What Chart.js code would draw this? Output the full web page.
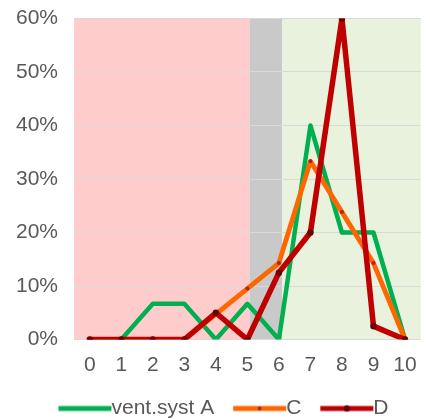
<!DOCTYPE html>
<html>
<head>
<meta charset="utf-8">
<script src="https://cdn.jsdelivr.net/npm/chart.js@4.4.1/dist/chart.umd.min.js"></script>
<style>
  html, body { margin: 0; padding: 0; background: #ffffff; }
  #wrap { width: 430px; height: 419px; }
</style>
</head>
<body>
<div id="wrap"><canvas id="chart" width="430" height="419"></canvas></div>
<script>
// Categories on the x axis
const categories = ['0', '1', '2', '3', '4', '5', '6', '7', '8', '9', '10'];

// Share of answers per category (percent)
const seriesNames = ['vent.syst A', 'C', 'D'];
const ventSystA = [0, 0, 6.67, 6.67, 0, 6.67, 0, 40, 20, 20, 0];
const seriesC   = [0, 0, 0, 0, 4.76, 9.52, 14.29, 33.33, 23.81, 14.29, 0];
const seriesD   = [0, 0, 0, 0, 5, 0, 12.5, 20, 60, 2.5, 0];

// Y axis ticks (percent)
const yTicks = [0, 10, 20, 30, 40, 50, 60];

// Shaded zones behind the lines, in category units
const zoneFrom = [-0.5, 5.07, 6.1];
const zoneTo   = [5.07, 6.1, 10.5];
const zoneColors = ['#FFCCCC', '#C9C9C9', '#E9F2DC'];

const FONT = '"Liberation Sans", Arial, sans-serif';
const TEXT = '#595959';
const FS = 21;

const seriesColors = ['#00B050', '#FF6600', '#C00000'];
const markerColors = [null, '#B0201A', '#6A0000'];
const markerRadius = [0, 2, 3.2];

// Legend swatch: a short line with the series marker in its middle
const LEGEND_BOX = 51.5;
function legendSwatch(i) {
  const lineLen = 53;
  const rightOff = LEGEND_BOX / 2 + FS / 2;
  const half = Math.ceil(Math.max(rightOff, lineLen - rightOff));
  const cv = document.createElement('canvas');
  cv.width = half * 2;
  cv.height = 10;
  const g = cv.getContext('2d');
  const x1 = half + rightOff;
  const x0 = x1 - lineLen;
  g.strokeStyle = seriesColors[i];
  g.lineWidth = 5;
  g.beginPath();
  g.moveTo(x0, 5);
  g.lineTo(x1, 5);
  g.stroke();
  if (markerRadius[i] > 0) {
    g.fillStyle = markerColors[i];
    g.beginPath();
    g.arc((x0 + x1) / 2, 5, markerRadius[i], 0, Math.PI * 2);
    g.fill();
  }
  return cv;
}

const zonesPlugin = {
  id: 'zones',
  beforeDraw(chart) {
    const { ctx, chartArea, scales } = chart;
    const x = scales.x;
    ctx.save();
    for (let i = 0; i < zoneFrom.length; i++) {
      const a = Math.max(chartArea.left, x.getPixelForValue(zoneFrom[i]));
      const b = Math.min(chartArea.right, x.getPixelForValue(zoneTo[i]));
      ctx.fillStyle = zoneColors[i];
      ctx.fillRect(a, chartArea.top, b - a, chartArea.bottom - chartArea.top);
    }
    ctx.restore();
  }
};

const seriesData = [ventSystA, seriesC, seriesD];
const lineWidths = [4.5, 4.8, 5.5];

new Chart(document.getElementById('chart'), {
  type: 'line',
  data: {
    labels: categories,
    datasets: seriesNames.map((name, i) => ({
      label: name,
      data: seriesData[i],
      borderColor: seriesColors[i],
      backgroundColor: seriesColors[i],
      borderWidth: lineWidths[i],
      borderJoinStyle: 'round',
      borderCapStyle: 'round',
      tension: 0,
      fill: false,
      pointRadius: markerRadius[i],
      pointHoverRadius: markerRadius[i],
      pointBorderWidth: 0,
      pointBackgroundColor: markerColors[i] || seriesColors[i],
      order: seriesNames.length - i
    }))
  },
  options: {
    responsive: false,
    animation: false,
    devicePixelRatio: 1,
    layout: { padding: { left: 15, right: 7, top: 18.5, bottom: -10 } },
    plugins: {
      tooltip: { enabled: false },
      legend: {
        position: 'bottom',
        align: 'center',
        labels: {
          usePointStyle: true,
          pointStyleWidth: LEGEND_BOX,
          boxHeight: 8,
          padding: 10,
          color: TEXT,
          font: { family: FONT, size: FS },
          sort: (a, b) => a.datasetIndex - b.datasetIndex,
          generateLabels(chart) {
            const items = Chart.defaults.plugins.legend.labels.generateLabels(chart);
            items.forEach(it => { it.pointStyle = legendSwatch(it.datasetIndex); });
            return items;
          }
        }
      }
    },
    scales: {
      x: {
        type: 'category',
        offset: true,
        grid: { display: false, drawTicks: false },
        border: { display: false },
        ticks: { color: TEXT, font: { family: FONT, size: FS }, padding: 13, maxRotation: 0, autoSkip: false },
        afterFit(s) { s.height = 48.5; }
      },
      y: {
        min: yTicks[0],
        max: yTicks[yTicks.length - 1],
        afterBuildTicks(s) { s.ticks = yTicks.map(v => ({ value: v })); },
        grid: {
          color: '#D9D9D9',
          lineWidth: 1,
          drawTicks: true,
          tickLength: 16,
          tickColor: 'rgba(0,0,0,0)'
        },
        border: { display: false },
        ticks: {
          color: TEXT,
          font: { family: FONT, size: FS },
          padding: 0,
          callback: v => v + '%'
        },
        afterFit(s) { s.width = 59; }
      }
    }
  },
  plugins: [zonesPlugin]
});
</script>
</body>
</html>
